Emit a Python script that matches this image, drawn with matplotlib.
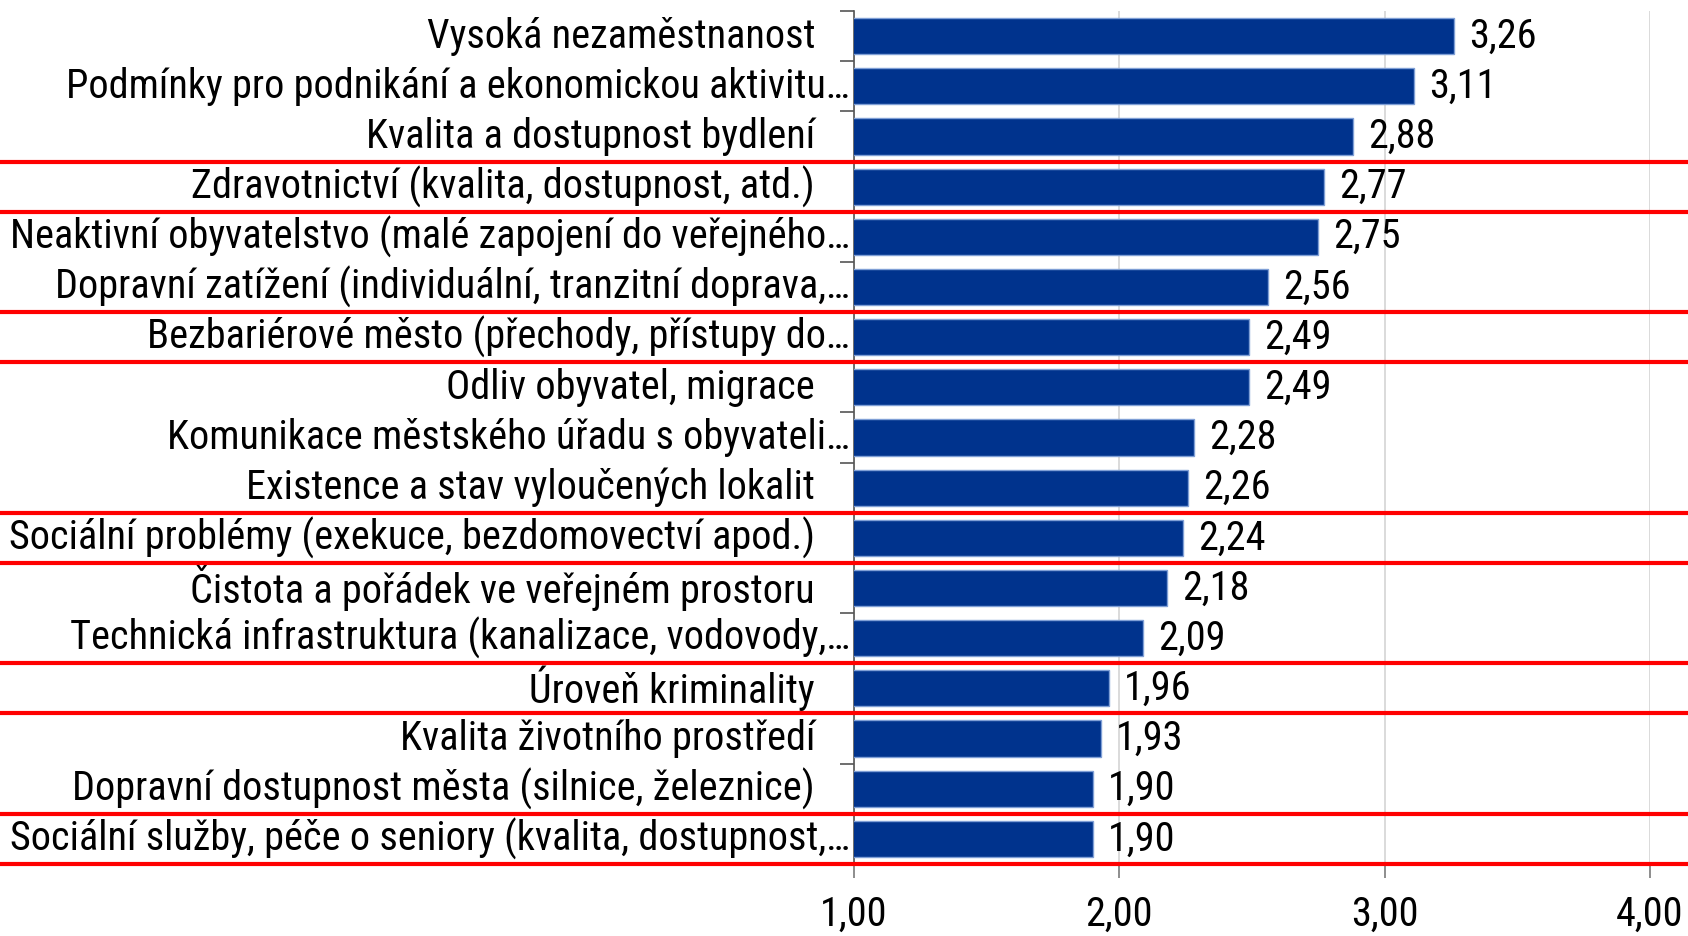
import matplotlib
matplotlib.use("Agg")
import matplotlib.pyplot as plt
import matplotlib.transforms as mtransforms

# data (top to bottom, as shown)
labels = [
    "Vysoká nezaměstnanost",
    "Podmínky pro podnikání a ekonomickou aktivitu…",
    "Kvalita a dostupnost bydlení",
    "Zdravotnictví (kvalita, dostupnost, atd.)",
    "Neaktivní obyvatelstvo (malé zapojení do veřejného…",
    "Dopravní zatížení (individuální, tranzitní doprava,…",
    "Bezbariérové město (přechody, přístupy do…",
    "Odliv obyvatel, migrace",
    "Komunikace městského úřadu s obyvateli…",
    "Existence a stav vyloučených lokalit",
    "Sociální problémy (exekuce, bezdomovectví apod.)",
    "Čistota a pořádek ve veřejném prostoru",
    "Technická infrastruktura (kanalizace, vodovody,…",
    "Úroveň kriminality",
    "Kvalita životního prostředí",
    "Dopravní dostupnost města (silnice, železnice)",
    "Sociální služby, péče o seniory (kvalita, dostupnost,…",
]
values = [3.26, 3.11, 2.88, 2.77, 2.75, 2.56, 2.49, 2.49, 2.28, 2.26,
          2.24, 2.18, 2.09, 1.96, 1.93, 1.90, 1.90]
highlighted = [
    "Zdravotnictví (kvalita, dostupnost, atd.)",
    "Bezbariérové město (přechody, přístupy do…",
    "Sociální problémy (exekuce, bezdomovectví apod.)",
    "Úroveň kriminality",
    "Sociální služby, péče o seniory (kvalita, dostupnost,…",
]
xticks = [1.0, 2.0, 3.0, 4.0]

plt.rcParams["font.family"] = ["Roboto Condensed", "Liberation Sans", "DejaVu Sans"]
FS = 29

fig = plt.figure(figsize=(16.88, 9.36), dpi=100)
ax = fig.add_axes([854 / 1688, 1 - 864 / 936, (1650 - 854) / 1688, (864 - 11) / 936])

n = len(labels)
ypos = list(range(n))
ax.barh(ypos, values, height=0.72, color="#00338D", edgecolor="#7f9fd6",
        linewidth=1, zorder=3)

ax.set_xlim(1, 4)
ax.set_ylim(n - 0.5, -0.5)

# grid + axes
ax.set_xticks(xticks)
ax.set_xticklabels([f"{t:.2f}".replace(".", ",") for t in xticks], fontsize=FS)
ax.xaxis.grid(True, color="#d4d4d4", linewidth=1.2, zorder=0)
ax.tick_params(axis="x", direction="out", length=10, width=1.2, color="#7a7a7a", pad=12)
ax.set_yticks([i - 0.5 for i in range(n + 1)])
ax.set_yticklabels([])
ax.tick_params(axis="y", direction="out", length=10, width=1.2, color="#555555")
for s in ["top", "right"]:
    ax.spines[s].set_visible(False)
ax.spines["left"].set_color("#555555")
ax.spines["left"].set_linewidth(1.2)
ax.spines["bottom"].set_color("#7a7a7a")
ax.spines["bottom"].set_linewidth(1.5)

# category labels
trans_lab = mtransforms.blended_transform_factory(ax.transAxes, ax.transData)
for i, lab in enumerate(labels):
    off = -3 if lab.endswith("…") else -28
    t = trans_lab + mtransforms.ScaledTranslation(off / 72, 0, fig.dpi_scale_trans)
    ax.text(0, i, lab, transform=t, ha="right", va="center", fontsize=FS)

# value labels
for i, v in enumerate(values):
    ax.annotate(f"{v:.2f}".replace(".", ","), (v, i), xytext=(11, 0),
                textcoords="offset points", ha="left", va="center", fontsize=FS)

# red highlight lines across whole figure
trans_red = mtransforms.blended_transform_factory(fig.transFigure, ax.transData)
for lab in highlighted:
    i = labels.index(lab)
    for yb in (i - 0.5, i + 0.5):
        ax.plot([0, 1], [yb, yb], transform=trans_red, color="#ff0000",
                linewidth=3, clip_on=False, zorder=5)

fig.savefig("out.png", dpi=100)
